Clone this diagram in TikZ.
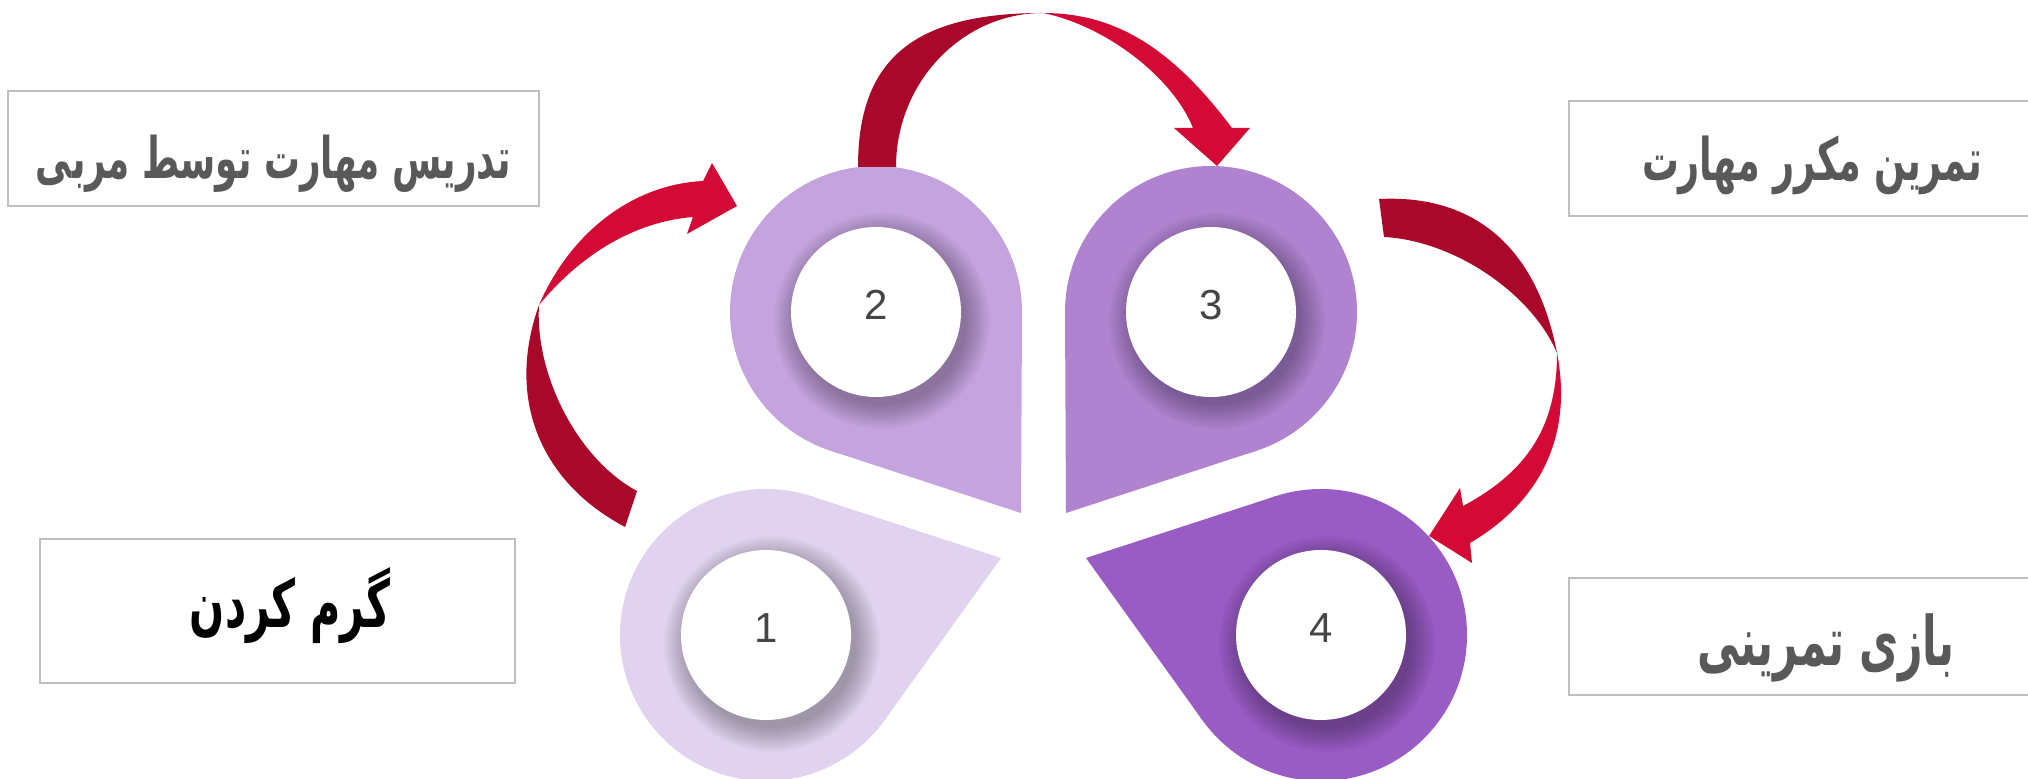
\documentclass[tikz,border=0pt]{standalone}
\usepackage{fontspec}
\usepackage{graphicx}
\usetikzlibrary{calc}
\newfontfamily\arabicfont[Script=Arabic]{DejaVu Sans}
\newfontfamily\numfont{Liberation Sans}
\TeXXeTstate=1
\definecolor{pA}{HTML}{E1D3EF}
\definecolor{pB}{HTML}{C5A3DF}
\definecolor{pC}{HTML}{B083D1}
\definecolor{pD}{HTML}{995BC4}
\definecolor{rDark}{HTML}{A9082A}
\definecolor{rBright}{HTML}{D30A36}
\definecolor{boxline}{HTML}{BFBFBF}
\definecolor{txtgray}{HTML}{595959}
\definecolor{digitgray}{HTML}{454545}
\tikzset{
  labelbox/.style={draw=boxline, line width=1pt, fill=white, inner sep=0pt},
  holestyle/.style={circle, fill=white, minimum size=85pt, inner sep=0pt},
  digitstyle/.style={font=\numfont\fontsize{21}{25}\selectfont, text=digitgray, inner sep=0pt, anchor=base},
  labeltext/.style={inner sep=0pt, anchor=base, text=txtgray},
  curvedark/.style={fill=rDark},
  curvebright/.style={fill=rBright}
}
\newcommand\teardrop[6]{%
  \coordinate (#1c) at (#2,#3);
  \coordinate (#1p) at (#4,#5);
  \pgfmathsetmacro\tdD{veclen(#4-#2,#5-#3)}
  \pgfmathsetmacro\tdT{atan2(#5-#3,#4-#2)}
  \pgfmathsetmacro\tdA{acos(146/\tdD)}
  \pgfmathsetmacro\tdP{\tdT+\tdA}
  \pgfmathsetmacro\tdM{\tdT-\tdA}
  \fill[#6] (#1c) circle (146);
  \fill[#6] (#1c) -- ($(#1c)+(\tdP:146)$) -- (#1p) -- ($(#1c)+(\tdM:146)$) -- cycle;
}
\newcommand\hole[4]{%
  \foreach \k in {0,...,12}{\fill[black,opacity=0.022] ($(#2,#3)+(6,9)$) circle ({84+2*\k});}
  \node[holestyle] (#1) at (#2,#3) {};
  \node[digitstyle] (#1n) at (#2,#3+8) {#4};
}
\newcommand\artext[2]{\resizebox{#1}{!}{\scalebox{1}[1.6]{\arabicfont\bfseries #2}}}
\begin{document}
\begin{tikzpicture}[x=0.5pt,y=-0.5pt]
\clip (0,0) rectangle (2028,779);
\fill[white] (0,0) rectangle (2028,779);

% teardrops
\teardrop{d1}{766}{635}{1001}{558}{pA}
\teardrop{d2}{876}{312}{1021}{513}{pB}
\teardrop{d3}{1211}{312}{1066}{513}{pC}
\teardrop{d4}{1321}{635}{1086}{558}{pD}

% white holes with numbers
\hole{h1}{766}{635}{1}
\hole{h2}{876}{312}{2}
\hole{h3}{1211}{312}{3}
\hole{h4}{1321}{635}{4}

% label boxes
\node[labelbox, minimum width=265.5pt, minimum height=57.5pt] (b1) at (273.5,148.5) {};
\node[labeltext] (t1) at (273.5,179) {\artext{237.5pt}{\beginR تدریس مهارت توسط مربی\endR}};
\node[labelbox, minimum width=245.5pt, minimum height=57.5pt] (b2) at (1814.5,158.5) {};
\node[labeltext] (t2) at (1812,181) {\artext{170pt}{\beginR تمرین مکرر مهارت\endR}};
\node[labelbox, minimum width=237.5pt, minimum height=72pt] (b3) at (277.5,611) {};
\node[labeltext, text=black] (t3) at (290,628) {\artext{100pt}{\beginR گرم کردن\endR}};
\node[labelbox, minimum width=245.5pt, minimum height=58.5pt] (b4) at (1814.5,636.5) {};
\node[labeltext] (t4) at (1826,666) {\artext{129pt}{\beginR بازی تمرینی\endR}};

% left arrow (1 -> 2)
\coordinate (LJ) at (539,305);
\fill[curvedark] (625,527) .. controls (538.5,480.9) and (506.1,396.9) .. (LJ)
  .. controls (534.7,376.2) and (578.8,459.9) .. (637,491) -- cycle;
\fill[curvebright] (LJ) .. controls (570.9,231.6) and (633.2,184.5) .. (703,181)
  -- (712,163) -- (737,206) -- (687,234) -- (693,217)
  .. controls (636.7,221.5) and (582.7,252.3) .. (LJ) -- cycle;

% top arrow (2 -> 3)
\coordinate (TJ) at (1043,13);
\fill[curvedark] (858,167) .. controls (858,59.2) and (913.5,13) .. (TJ)
  .. controls (962.2,13) and (896,82.3) .. (896,167) -- cycle;
\fill[curvebright] (TJ) .. controls (1115,13) and (1171.6,47.5) .. (1232,128)
  -- (1250,128) -- (1217,166) -- (1174,128) -- (1193,128)
  .. controls (1172.8,77.2) and (1105.3,25.5) .. (TJ) -- cycle;

% right arrow (3 -> 4)
\coordinate (RJ) at (1557,353);
\fill[curvedark] (1379,199) .. controls (1474.4,194.2) and (1536.7,247.2) .. (RJ)
  .. controls (1530.9,292.1) and (1452.9,240.5) .. (1384,237) -- cycle;
\fill[curvebright] (RJ) .. controls (1572.7,434.1) and (1542.2,500.5) .. (1470,543)
  -- (1472,563) -- (1429,536) -- (1460,488) -- (1463,506)
  .. controls (1528.8,470.9) and (1557,425) .. (RJ) -- cycle;
\end{tikzpicture}
\end{document}
